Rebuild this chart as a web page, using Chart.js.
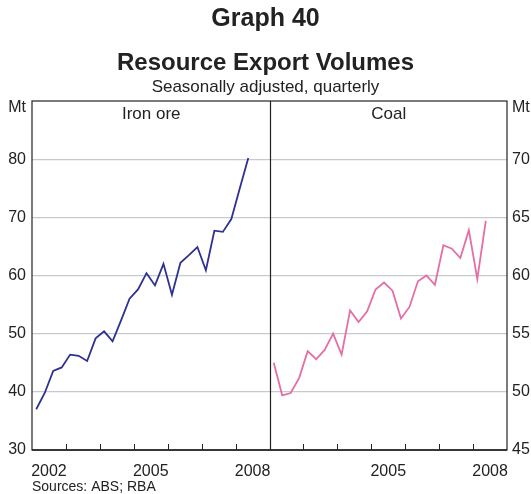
<!DOCTYPE html>
<html>
<head>
<meta charset="utf-8">
<script src="https://cdn.jsdelivr.net/npm/chart.js@4"></script>
<style>
  html, body { margin: 0; padding: 0; background: #ffffff; }
  #wrap { width: 531px; height: 494px; position: relative; }
</style>
</head>
<body>
<div id="wrap"><canvas id="c" width="531" height="494"></canvas></div>
<script>
// ---- Data (quarterly, seasonally adjusted, Mt) ----
const quarters = [
  'Mar-02','Jun-02','Sep-02','Dec-02','Mar-03','Jun-03','Sep-03','Dec-03',
  'Mar-04','Jun-04','Sep-04','Dec-04','Mar-05','Jun-05','Sep-05','Dec-05',
  'Mar-06','Jun-06','Sep-06','Dec-06','Mar-07','Jun-07','Sep-07','Dec-07',
  'Mar-08','Jun-08'
];
const ironOre = [37.0, 39.8, 43.6, 44.2, 46.4, 46.2, 45.3, 49.2, 50.4, 48.7, 52.3, 56.0, 57.6,
                 60.4, 58.3, 62.0, 56.7, 62.2, 63.5, 64.9, 60.9, 67.7, 67.5, 69.7, 75.0, 80.2];
const coal = [52.5, 49.7, 49.9, 51.2, 53.5, 52.8, 53.6, 55.0, 53.2, 57.0, 56.0, 56.9, 58.8,
              59.4, 58.7, 56.3, 57.3, 59.5, 60.0, 59.2, 62.6, 62.3, 61.5, 63.9, 59.7, 64.7];
const panelNames = ['Iron ore', 'Coal'];
const yearLabels = ['2002', '2005', '2008'];
const leftTicks = [30, 40, 50, 60, 70, 80, 90];
const rightTicks = [45, 50, 55, 60, 65, 70, 75];

// ---- helpers ----
const FONT = 'Arial, "Liberation Sans", Helvetica, sans-serif';
const START_YEAR = 2002;
const YEARS_PER_PANEL = 7;
const Q_PER_PANEL = YEARS_PER_PANEL * 4;

// Year label positions (middle of each labelled year) in both panels
const yearTickPos = [];
const yearTickText = {};
[0, 1].forEach(p => {
  yearLabels.forEach(y => {
    if (p === 1 && y === '2002') return; // not shown in the right panel
    const pos = p * Q_PER_PANEL + (parseInt(y) - START_YEAR) * 4 + 2;
    yearTickPos.push(pos);
    yearTickText[pos] = y;
  });
});

const ironData = ironOre.map((v, i) => ({ x: i + 0.5, y: v }));
const coalData = coal.map((v, i) => ({ x: Q_PER_PANEL + i + 0.5, y: v }));

const decor = {
  id: 'decor',
  afterDraw(chart) {
    const { ctx, chartArea: a, scales } = chart;
    const xs = scales.x;
    ctx.save();
    // year tick marks (inward)
    ctx.strokeStyle = '#222';
    ctx.lineWidth = 1;
    for (let q = 4; q < 2 * Q_PER_PANEL; q += 4) {
      if (q === Q_PER_PANEL) continue;
      const px = Math.round(xs.getPixelForValue(q)) + 0.5;
      ctx.beginPath();
      ctx.moveTo(px, a.bottom);
      ctx.lineTo(px, a.bottom - 6);
      ctx.stroke();
    }
    // box + divider
    ctx.strokeStyle = '#222';
    ctx.lineWidth = 1.2;
    ctx.strokeRect(a.left, a.top, a.right - a.left, a.bottom - a.top);
    const dx = Math.round(xs.getPixelForValue(Q_PER_PANEL)) + 0.5;
    ctx.beginPath();
    ctx.moveTo(dx, a.top);
    ctx.lineTo(dx, a.bottom);
    ctx.stroke();
    ctx.lineWidth = 1.6;
    ctx.beginPath();
    ctx.moveTo(a.left, a.bottom);
    ctx.lineTo(a.right, a.bottom);
    ctx.stroke();

    // panel names
    ctx.fillStyle = '#222';
    ctx.font = '17px ' + FONT;
    ctx.textAlign = 'center';
    ctx.textBaseline = 'middle';
    ctx.fillText(panelNames[0], (a.left + dx) / 2, a.top + 13);
    ctx.fillText(panelNames[1], (dx + a.right) / 2, a.top + 13);

    // units
    ctx.font = '16px ' + FONT;
    ctx.textAlign = 'right';
    ctx.fillText('Mt', a.left - 6, a.top + 7);
    ctx.textAlign = 'left';
    ctx.fillText('Mt', a.right + 5, a.top + 7);

    // titles
    const cx = chart.width / 2;
    ctx.textAlign = 'center';
    ctx.font = 'bold 25px ' + FONT;
    ctx.fillText('Graph 40', cx, 19);
    ctx.font = 'bold 24px ' + FONT;
    ctx.fillText('Resource Export Volumes', cx, 63);
    ctx.font = '17px ' + FONT;
    ctx.fillText('Seasonally adjusted, quarterly', cx, 87);

    // sources
    ctx.font = '14px ' + FONT;
    ctx.textAlign = 'left';
    ctx.fillText('Sources: ABS; RBA', a.left, 487);
    ctx.restore();
  }
};

new Chart(document.getElementById('c'), {
  type: 'line',
  data: {
    datasets: [
      { label: panelNames[0], data: ironData, yAxisID: 'y', borderColor: '#2e3192',
        borderWidth: 1.8, pointRadius: 0, tension: 0, fill: false },
      { label: panelNames[1], data: coalData, yAxisID: 'y2', borderColor: '#e56ea6',
        borderWidth: 1.8, pointRadius: 0, tension: 0, fill: false }
    ]
  },
  options: {
    responsive: false,
    devicePixelRatio: 1,
    animation: false,
    layout: { padding: { top: 101, left: 0, right: 0, bottom: 0 } },
    plugins: { legend: { display: false }, tooltip: { enabled: false }, title: { display: false } },
    scales: {
      x: {
        type: 'linear', min: 0, max: 2 * Q_PER_PANEL, position: 'bottom',
        grid: { display: false }, border: { display: false },
        afterBuildTicks: s => { s.ticks = yearTickPos.map(v => ({ value: v })); },
        afterFit: s => { s.height = 44; },
        ticks: {
          autoSkip: false, maxRotation: 0, padding: 4, color: '#222',
          font: { size: 16, family: FONT },
          callback: v => yearTickText[v] || ''
        }
      },
      y: {
        type: 'linear', position: 'left', min: leftTicks[0], max: leftTicks[leftTicks.length - 1],
        afterBuildTicks: s => { s.ticks = leftTicks.map(v => ({ value: v })); },
        afterFit: s => { s.width = 32; },
        border: { display: false },
        grid: {
          drawTicks: false, lineWidth: 1.3,
          color: c => (c.tick && (c.tick.value === leftTicks[0] || c.tick.value === leftTicks[leftTicks.length - 1])) ? 'rgba(0,0,0,0)' : '#c5cacf'
        },
        ticks: {
          padding: 6, color: '#222', font: { size: 16, family: FONT },
          callback: v => v === leftTicks[leftTicks.length - 1] ? '' : String(v)
        }
      },
      y2: {
        type: 'linear', position: 'right', min: rightTicks[0], max: rightTicks[rightTicks.length - 1],
        afterBuildTicks: s => { s.ticks = rightTicks.map(v => ({ value: v })); },
        afterFit: s => { s.width = 24; },
        border: { display: false },
        grid: { drawOnChartArea: false, drawTicks: false },
        ticks: {
          padding: 5, color: '#222', font: { size: 16, family: FONT },
          callback: v => v === rightTicks[rightTicks.length - 1] ? '' : String(v)
        }
      }
    }
  },
  plugins: [decor]
});
</script>
</body>
</html>
